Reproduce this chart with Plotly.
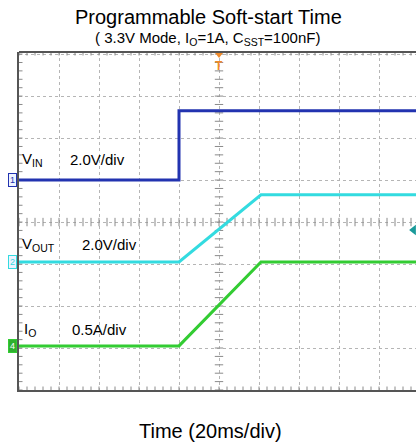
import numpy as np
import plotly.graph_objects as go

# ---- data (physical units) ----
vin_t     = [0, 80, 80, 198.5]        # ms
vin_vals  = [0, 0, 3.3, 3.3]          # V
vout_t    = [0, 80, 121, 198.5]       # ms
vout_vals = [0, 0, 3.2, 3.2]          # V
io_t      = [0, 80, 121, 198.5]       # ms
io_vals   = [0, 0, 1.0, 1.0]          # A

# channel settings: (scale per div, ground offset in divisions)
VIN_SCALE, VIN_OFF = 2.0, 5.0
VOUT_SCALE, VOUT_OFF = 2.0, 3.05
IO_SCALE, IO_OFF = 0.5, 1.05

def to_div(vals, scale, off):
    return [off + v / scale for v in vals]

C_VIN = "#2233b0"
C_VOUT = "#33dbe0"
C_IO = "#33cc33"
FONT = "Arial, Liberation Sans, sans-serif"
W, H = 416, 448
ML, MR, MT, MB = 19, 0, 52, 58

fig = go.Figure()

# graticule ticks on centre lines and borders
minor_t = np.arange(0, 200.01, 4)
minor_y = np.arange(0, 8.01, 0.2)
tick_mk = lambda sym, s: dict(symbol=sym, size=s, line=dict(width=1, color="#8a8a8a"))
fig.add_trace(go.Scatter(x=minor_t, y=[4] * len(minor_t), mode="markers",
                         marker=tick_mk("line-ns", 6), hoverinfo="skip", showlegend=False))
fig.add_trace(go.Scatter(x=[100] * len(minor_y), y=minor_y, mode="markers",
                         marker=tick_mk("line-ew", 6), hoverinfo="skip", showlegend=False))
fig.add_trace(go.Scatter(x=minor_t, y=[8.05] * len(minor_t), mode="markers",
                         marker=tick_mk("line-ns", 5), hoverinfo="skip", showlegend=False))
fig.add_trace(go.Scatter(x=minor_t, y=[0] * len(minor_t), mode="markers",
                         marker=tick_mk("line-ns", 5), hoverinfo="skip", showlegend=False))
fig.add_trace(go.Scatter(x=[0] * len(minor_y), y=minor_y, mode="markers",
                         marker=tick_mk("line-ew", 5), hoverinfo="skip", showlegend=False))

# traces
fig.add_trace(go.Scatter(x=vin_t, y=to_div(vin_vals, VIN_SCALE, VIN_OFF), mode="lines",
                         line=dict(color=C_VIN, width=3), showlegend=False))
fig.add_trace(go.Scatter(x=vout_t, y=to_div(vout_vals, VOUT_SCALE, VOUT_OFF), mode="lines",
                         line=dict(color=C_VOUT, width=3), showlegend=False))
fig.add_trace(go.Scatter(x=io_t, y=to_div(io_vals, IO_SCALE, IO_OFF), mode="lines",
                         line=dict(color=C_IO, width=3), showlegend=False))

# trigger level marker on right
fig.add_trace(go.Scatter(x=[197.3], y=[3.81], mode="markers", cliponaxis=False,
                         marker=dict(symbol="triangle-left", size=9, color="#1a9a9a"),
                         showlegend=False, hoverinfo="skip"))
# trigger position marker on top
fig.add_trace(go.Scatter(x=[100], y=[8.0], mode="markers", cliponaxis=False,
                         marker=dict(symbol="triangle-down", size=8, color="#f08a2a"),
                         showlegend=False, hoverinfo="skip"))

def label(x, y, text, size=14, color="black"):
    fig.add_annotation(x=x, y=y, xref="x", yref="y", text=text, showarrow=False,
                       xanchor="left", yanchor="middle",
                       font=dict(family=FONT, size=size, color=color))

label(0.5, 5.48, "V<sub>IN</sub>", 15)
label(24.5, 5.48, "2.0V/div", 15)
label(0.5, 3.46, "V<sub>OUT</sub>", 15)
label(30.5, 3.46, "2.0V/div", 15)
label(1.5, 1.43, "I<sub>O</sub>", 15)
label(25.5, 1.43, "0.5A/div", 15)

PW = W - ML - MR
PH = H - MT - MB
def px(pix):
    return (pix - ML) / PW
def py(pix):
    return (H - MB - pix) / PH

# channel markers
for y, txt, col in [(VIN_OFF, "1", C_VIN), (VOUT_OFF, "2", C_VOUT), (IO_OFF, "4", C_IO)]:
    fig.add_annotation(x=px(17), y=y, xref="paper", yref="y", text=txt, showarrow=False,
                       xanchor="right", yanchor="middle",
                       font=dict(family=FONT, size=9, color="white" if col == C_IO else col),
                       bgcolor="#2fb02f" if col == C_IO else "#eef3ff",
                       bordercolor=col, borderwidth=1, borderpad=1)

fig.add_annotation(x=100, y=7.72, xref="x", yref="y", text="<b>T</b>", showarrow=False,
                   font=dict(family=FONT, size=12, color="#f08a2a"))

fig.update_layout(
    width=W, height=H,
    margin=dict(l=ML, r=MR, t=MT, b=MB),
    paper_bgcolor="white", plot_bgcolor="white",
    showlegend=False,
    xaxis=dict(range=[0, 198.5], dtick=20, tick0=0, showticklabels=False, ticks="",
               showgrid=True, gridcolor="#b5b5b5", griddash="dot", gridwidth=1,
               zeroline=False, showline=True, linecolor="#555", linewidth=2),
    yaxis=dict(range=[0, 8.05], dtick=1, tick0=0, showticklabels=False, ticks="",
               showgrid=True, gridcolor="#b5b5b5", griddash="dot", gridwidth=1,
               zeroline=False, showline=True, linecolor="#555", linewidth=2),
)
# top border
fig.add_shape(type="line", xref="paper", yref="paper", x0=0, x1=1, y0=1, y1=1,
              line=dict(color="#555", width=2))

fig.add_annotation(x=px(208), y=py(17), xref="paper", yref="paper", xanchor="center", yanchor="middle",
                   text="Programmable Soft-start Time", showarrow=False,
                   font=dict(family=FONT, size=20, color="black"))
fig.add_annotation(x=px(207), y=py(38), xref="paper", yref="paper", xanchor="center", yanchor="middle",
                   text="( 3.3V Mode, I<sub>O</sub>=1A, C<sub>SST</sub>=100nF)", showarrow=False,
                   font=dict(family=FONT, size=15, color="black"))
fig.add_annotation(x=px(210), y=py(431), xref="paper", yref="paper",
                   xanchor="center", yanchor="middle",
                   text="Time (20ms/div)", showarrow=False,
                   font=dict(family=FONT, size=20, color="black"))

fig.write_html("out.html", config={"displayModeBar": False},
               post_script="document.body.style.margin='0';document.body.style.padding='0';")
